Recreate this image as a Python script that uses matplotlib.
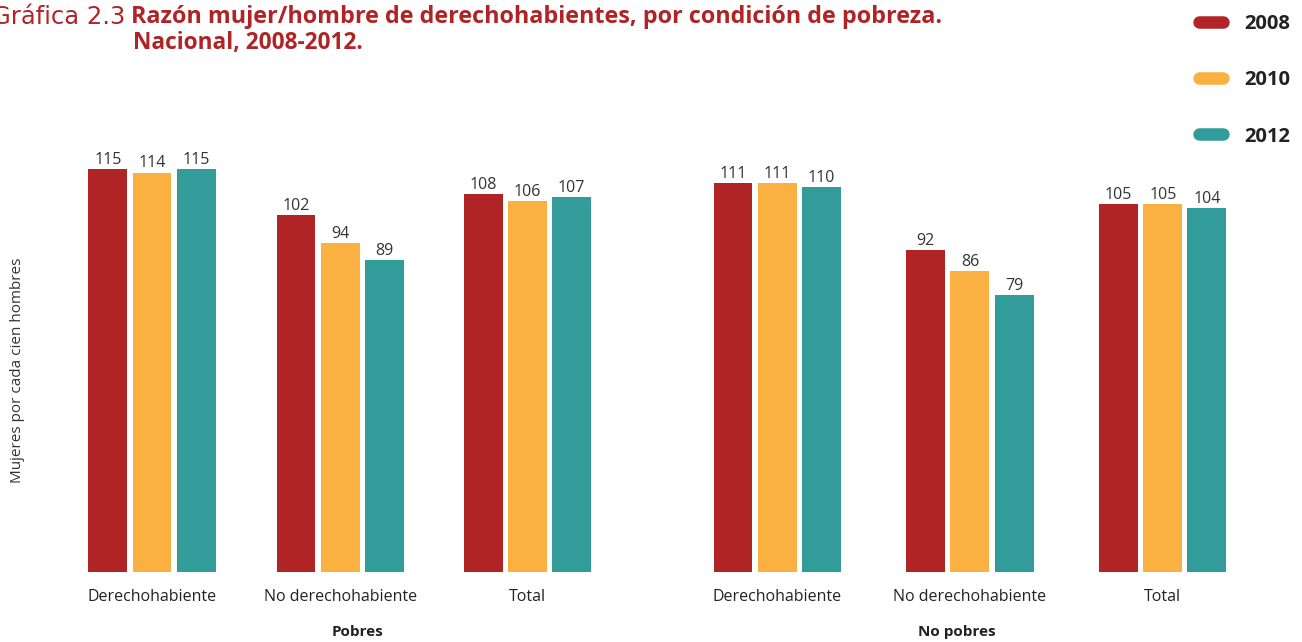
import matplotlib
matplotlib.use("Agg")
import matplotlib.pyplot as plt
from matplotlib.lines import Line2D
import numpy as np

plt.rcParams['font.family'] = ['Open Sans', 'DejaVu Sans']

categories = ["Derechohabiente", "No derechohabiente", "Total",
              "Derechohabiente", "No derechohabiente", "Total"]
groups = ["Pobres", "No pobres"]
years = ["2008", "2010", "2012"]
v2008 = [115, 102, 108, 111, 92, 105]
v2010 = [114, 94, 106, 111, 86, 105]
v2012 = [115, 89, 107, 110, 79, 104]
colors = ["#B02426", "#FBB042", "#329C9A"]

series = [v2008, v2010, v2012]
xpos = np.array([0, 0.99, 1.975, 3.29, 4.305, 5.32])
group_label_x = [1.079, 4.237]
width = 0.205
step = 0.232

fig = plt.figure(figsize=(13.02, 6.42), dpi=100)
W, H = 1302, 642
ax = fig.add_axes([60 / W, 1 - 572 / H, (1250 - 60) / W, (572 - 100) / H])
ax.set_xlim((60 - 152) / 190, (1250 - 152) / 190)
ax.set_ylim(0, (572 - 100) / 3.504)

for i, (vals, c) in enumerate(zip(series, colors)):
    xs = xpos + (i - 1) * step
    ax.bar(xs, vals, width=width, color=c, edgecolor='none')
    for x, v in zip(xs, vals):
        ax.text(x, v + 0.3, str(v), ha='center', va='bottom', fontsize=11.5, color='#333333')

for s in ax.spines.values():
    s.set_visible(False)
ax.set_xticks(xpos)
ax.set_xticklabels(categories, fontsize=11.5, color='#222222')
ax.tick_params(axis='x', length=0, pad=12)
ax.set_yticks([])

for gx, g in zip(group_label_x, groups):
    ax.text(gx, -0.128, g, transform=ax.get_xaxis_transform(), ha='center', va='center',
            fontsize=11, fontweight='bold', color='#222222')

fig.text(18 / W, 1 - 370 / H, "Mujeres por cada cien hombres", rotation=90, ha='center', va='center',
         fontsize=11, color='#333333')

red = "#B02426"
fig.text(125 / W, 1 - 17 / H, "Gráfica 2.3", ha='right', va='center', fontsize=17.5, color=red,
         family=['DejaVu Sans'])
fig.text(131 / W, 1 - 17 / H, "Razón mujer/hombre de derechohabientes, por condición de pobreza.",
         ha='left', va='center', fontsize=16.8, fontweight='bold', color=red)
fig.text(133 / W, 1 - 43 / H, "Nacional, 2008-2012.", ha='left', va='center', fontsize=16.3,
         fontweight='bold', color=red)

handles = [Line2D([], [], color=c, lw=9, solid_capstyle='round') for c in colors]
leg = fig.legend(handles, years, loc='upper right', bbox_to_anchor=(1294 / W, 1 - 10 / H),
                 frameon=False, handlelength=1.2, handletextpad=1.05, labelspacing=1.8,
                 borderpad=0.2, borderaxespad=0, prop={'weight': 'bold', 'size': 14.5})
for t in leg.get_texts():
    t.set_color('#222222')

fig.savefig("out.png", dpi=100)
